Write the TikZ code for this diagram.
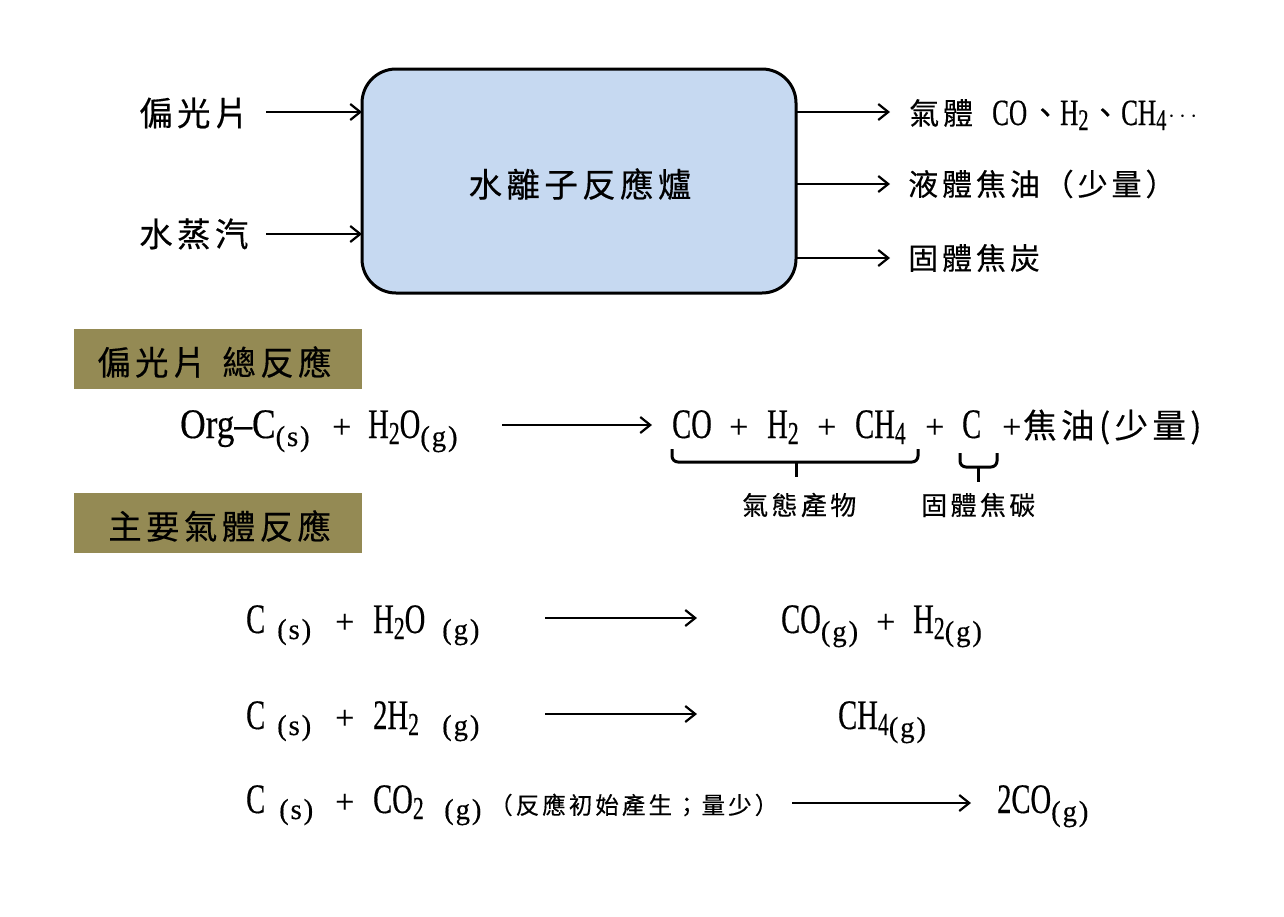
\documentclass[tikz,border=0pt]{standalone}
\usepackage{fontspec}
\setmainfont{Liberation Serif}
\newfontfamily\cjk[LetterSpace=13,FakeBold=0.35]{Noto Sans CJK TC}
\newfontfamily\narrow[FakeStretch=0.68,FakeBold=0.35]{Liberation Serif}
\newfontfamily\orgf[FakeStretch=0.84,FakeBold=0.35]{Liberation Serif}
\newfontfamily\subf[LetterSpace=6,FakeBold=0.35]{Liberation Serif}
\newfontfamily\plusf[FakeBold=0.2]{Liberation Serif}
\newcommand{\sbs}[1]{\raisebox{-6pt}{\fontsize{32}{34}\selectfont #1}}
\newcommand{\sbp}[1]{\raisebox{-8pt}{\subf\fontsize{29}{32}\selectfont #1}}
\usetikzlibrary{arrows.meta}
\definecolor{band}{HTML}{948A54}
\definecolor{boxfill}{HTML}{C6D9F1}
\tikzset{
 px/.style={x=1pt,y=-1pt},
 lab/.style={inner sep=0pt,anchor=west,font=\cjk\fontsize{33.5}{36}\selectfont,text=black},
 outlab/.style={inner sep=0pt,anchor=west,font=\cjk\fontsize{30}{34}\selectfont,text=black},
 eq/.style={inner sep=0pt,anchor=base west,font=\narrow\fontsize{42}{44}\selectfont,text=black},
 outeq/.style={inner sep=0pt,anchor=base west,font=\narrow\fontsize{37}{40}\selectfont,text=black},
 pl/.style={inner sep=0pt,anchor=base west,font=\plusf\fontsize{34}{36}\selectfont,text=black},
 subt/.style={inner sep=0pt,anchor=base west,font=\subf\fontsize{29}{32}\selectfont,text=black},
 small/.style={inner sep=0pt,anchor=west,font=\cjk\fontsize{26}{30}\selectfont,text=black},
 tiny/.style={inner sep=0pt,anchor=west,font=\cjk\fontsize{23.5}{26}\selectfont,text=black},
 conn/.style={draw=black,line width=2.2pt,-{Straight Barb[length=10pt,width=16pt,line width=2.2pt]}},
 brace/.style={draw=black,line width=3pt,rounded corners=6pt},
 band/.style={fill=band,draw=none,inner sep=0pt,minimum width=288pt,minimum height=60pt}
}
\begin{document}
\begin{tikzpicture}[px]
\useasboundingbox (0,0) rectangle (1284,916);
\fill[white] (0,0) rectangle (1284,916);
\node[draw=black,line width=3pt,fill=boxfill,rounded corners=34pt,minimum width=434pt,minimum height=224pt,inner sep=0pt] (reactor) at (579,181) {};
\node[lab,anchor=center] (title) at (580,184) {水離子反應爐};
\node[lab] (in1) at (139,113) {偏光片};
\node[lab] (in2) at (139,234) {水蒸汽};
\coordinate (s1) at (266,112);
\coordinate (s2) at (266,234);
\coordinate (r1) at (362,112);
\coordinate (r2) at (362,234);
\draw[conn] (s1) -- (r1);
\draw[conn] (s2) -- (r2);
\node[outlab] (o1) at (909,113) {氣體};
\node[outeq] (o1b) at (992,125) {CO};
\node[outlab] (o1c) at (1030,116) {、};
\node[outeq] (o1d) at (1060,125) {H\raisebox{-5pt}{\fontsize{30}{32}\selectfont 2}};
\node[outlab] (o1e) at (1090,116) {、};
\node[outeq] (o1f) at (1121,125) {CH\raisebox{-5pt}{\fontsize{30}{32}\selectfont 4}};
\node[inner sep=0pt,anchor=base west,font=\plusf\fontsize{30}{32}\selectfont] (o1g) at (1168,122) {$\cdots$};
\node[outlab] (o2) at (908,184) {液體焦油（少量）};
\node[outlab] (o3) at (908,258) {固體焦炭};
\coordinate (q1) at (796,112);
\coordinate (q2) at (796,184);
\coordinate (q3) at (796,258);
\coordinate (c1) at (890,112);
\coordinate (c2) at (890,184);
\coordinate (c3) at (890,258);
\draw[conn] (q1) -- (c1);
\draw[conn] (q2) -- (c2);
\draw[conn] (q3) -- (c3);
\node[band] (b1) at (218,359) {};
\node[lab] (bt1) at (97,362) {偏光片\hspace{16pt}總反應};
\node[band] (b2) at (218,523) {};
\node[lab] (bt2) at (108,526) {主要氣體反應};
% total reaction
\node[eq] (t1) at (180,438) {{\orgf Org–C}\sbp{(s)}};
\node[pl] (t2) at (332,438) {+};
\node[eq] (t3) at (368,438) {H\sbs{2}O\sbp{(g)}};
\coordinate (ta) at (502,425);
\coordinate (tb) at (652,425);
\draw[conn] (ta) -- (tb);
\node[eq] (t4) at (672,438) {CO};
\node[pl] (t5) at (729,438) {+};
\node[eq] (t6) at (767,438) {H\sbs{2}};
\node[pl] (t7) at (817,438) {+};
\node[eq] (t8) at (855,438) {CH\sbs{4}};
\node[pl] (t9) at (925,438) {+};
\node[eq] (t10) at (962,438) {C};
\node[pl] (t11) at (1002,438) {+};
\node[lab] (t12) at (1023,427) {焦油(少量)};
\draw[brace] (672,449) -- (672,462) -- (918,462) -- (918,449);
\coordinate (bt) at (796,462);
\coordinate (bb) at (796,477);
\draw[brace,rounded corners=0pt] (bt) -- (bb);
\draw[brace] (960,453) -- (960,467) -- (997,467) -- (997,453);
\coordinate (ct) at (978,467);
\coordinate (cb) at (978,482);
\draw[brace,rounded corners=0pt] (ct) -- (cb);
\node[small] (l1) at (742,505) {氣態產物};
\node[small] (l2) at (921,505) {固體焦碳};
% row 1
\node[eq] (a1) at (246,633) {C};
\node[subt] (a2) at (277,639) {(s)};
\node[pl] (a3) at (335,633) {+};
\node[eq] (a4) at (373,633) {H\sbs{2}O};
\node[subt] (a5) at (442,639) {(g)};
\coordinate (aa) at (545,618);
\coordinate (ab) at (697,618);
\draw[conn] (aa) -- (ab);
\node[eq] (a6) at (781,633) {CO\sbp{(g)}};
\node[pl] (a7) at (876,633) {+};
\node[eq] (a8) at (913,633) {H\sbs{2}\sbp{(g)}};
% row 2
\node[eq] (d1) at (246,729) {C};
\node[subt] (d2) at (277,735) {(s)};
\node[pl] (d3) at (335,729) {+};
\node[eq] (d4) at (373,729) {2H\sbs{2}};
\node[subt] (d5) at (442,735) {(g)};
\coordinate (da) at (545,714);
\coordinate (db) at (697,714);
\draw[conn] (da) -- (db);
\node[eq] (d6) at (838,729) {CH\sbs{4}\sbp{(g)}};
% row 3
\node[eq] (e1) at (246,813) {C};
\node[subt] (e2) at (279,819) {(s)};
\node[pl] (e3) at (335,813) {+};
\node[eq] (e4) at (373,813) {CO\sbs{2}};
\node[subt] (e5) at (444,819) {(g)};
\node[tiny] (e6) at (489,805) {（反應初始產生；量少）};
\coordinate (ea) at (792,803);
\coordinate (eb) at (971,803);
\draw[conn] (ea) -- (eb);
\node[eq] (e7) at (997,813) {2CO\sbp{(g)}};
\end{tikzpicture}
\end{document}
